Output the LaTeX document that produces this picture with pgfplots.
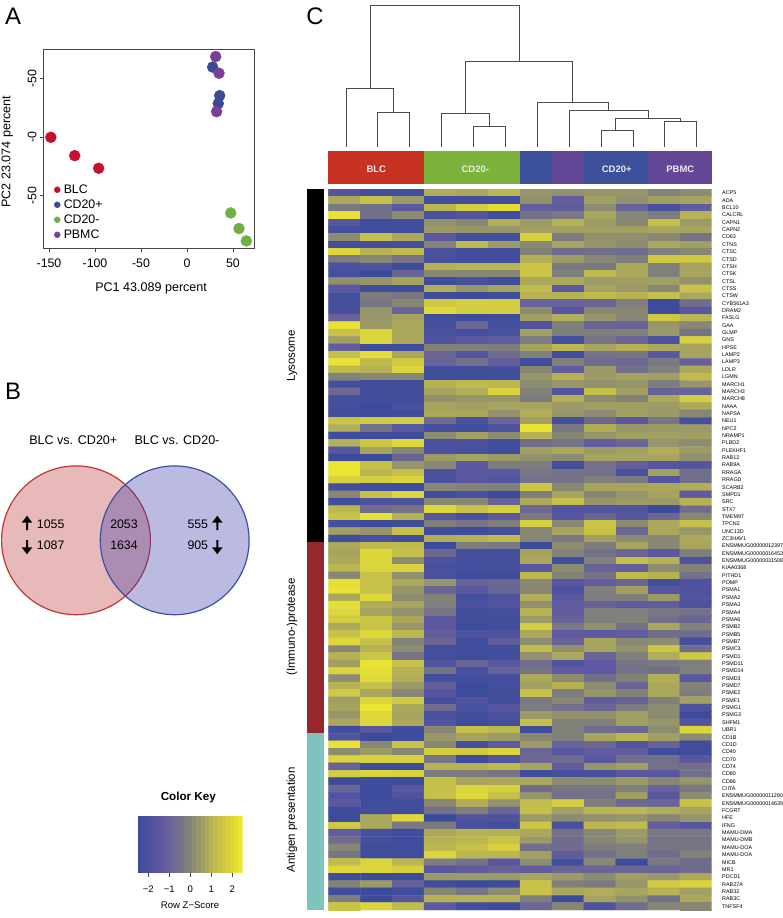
\documentclass[border=0pt]{standalone}
\usepackage{fontspec}
\setmainfont{Liberation Sans}
\usepackage{pgfplots}
\pgfplotsset{compat=1.18}
\newcommand\fs[1]{\fontsize{#1}{#1}\selectfont}
\definecolor{cBLC}{RGB}{200,16,46}
\definecolor{cPos}{RGB}{58,74,150}
\definecolor{cNeg}{RGB}{111,176,68}
\definecolor{cPBMC}{RGB}{123,63,152}
\definecolor{hRed}{RGB}{200,50,35}
\definecolor{hGreen}{RGB}{125,178,60}
\definecolor{hBlue}{RGB}{60,80,155}
\definecolor{hPurple}{RGB}{100,70,150}
\definecolor{vRed}{RGB}{189,55,55}
\definecolor{vBlue}{RGB}{60,60,170}
\definecolor{axgray}{RGB}{70,70,70}
\definecolor{dendro}{RGB}{75,75,75}
\pgfplotsset{
  colormap={bgy}{rgb255=(58,74,156) rgb255=(96,90,160) rgb255=(130,130,120) rgb255=(195,190,75) rgb255=(240,232,48)},
  every axis/.append style={scale only axis,anchor=south west},
}
\tikzset{dend/.style={draw=dendro,line width=.9bp,no marks,line join=miter}}
\begin{document}
\begin{tikzpicture}
\useasboundingbox (0,0) rectangle (783bp,918bp);
% ===== canvas axis in pixel units: panels letters, Venn, header, side bar
\begin{axis}[at={(0,0)},width=783bp,height=918bp,xmin=0,xmax=783,ymin=0,ymax=918,y dir=reverse,hide axis,clip=false]
\node[font=\fs{24}] at (axis cs:13,16) {A};
\node[font=\fs{24}] at (axis cs:13,391) {B};
\node[font=\fs{24}] at (axis cs:315,16) {C};
% Venn
\fill[vRed,fill opacity=.35] (axis cs:76,540.3) circle [radius=74.4bp];
\draw[vRed,line width=1.2bp] (axis cs:76,540.3) circle [radius=74.4bp];
\fill[vBlue,fill opacity=.35] (axis cs:174.7,540.3) circle [radius=74.4bp];
\draw[color={rgb,255:red,60;green,80;blue,165},line width=1.2bp] (axis cs:174.7,540.3) circle [radius=74.4bp];
\node[font=\fs{12.6}] at (axis cs:73.3,440) {BLC vs. CD20+};
\node[font=\fs{12.6}] at (axis cs:177,440) {BLC vs. CD20-};
\node[font=\fs{12.4},anchor=west,inner sep=0] at (axis cs:36.7,524.7) {1055};
\node[font=\fs{12.4},anchor=west,inner sep=0] at (axis cs:36.7,545.7) {1087};
\node[font=\fs{12.4}] at (axis cs:124,524.7) {2053};
\node[font=\fs{12.4}] at (axis cs:124,545.7) {1634};
\node[font=\fs{12.4},anchor=west,inner sep=0] at (axis cs:187.3,524.7) {555};
\node[font=\fs{12.4},anchor=west,inner sep=0] at (axis cs:187.3,545.7) {905};
\addplot[fill=black,draw=none] coordinates {(27,515.7)(32.3,522.7)(28,522.7)(28,530)(26,530)(26,522.7)(21.7,522.7)} --cycle;
\addplot[fill=black,draw=none] coordinates {(27,554.3)(32.3,547.3)(28,547.3)(28,540)(26,540)(26,547.3)(21.7,547.3)} --cycle;
\addplot[fill=black,draw=none] coordinates {(217.3,515.7)(222.6,522.7)(218.3,522.7)(218.3,530)(216.3,530)(216.3,522.7)(212,522.7)} --cycle;
\addplot[fill=black,draw=none] coordinates {(217.3,554.3)(222.6,547.3)(218.3,547.3)(218.3,540)(216.3,540)(216.3,547.3)(212,547.3)} --cycle;
% column header
\addplot[fill=hRed,draw=none] coordinates {(328.3,150.7)(424.3,150.7)(424.3,184)(328.3,184)} --cycle;
\addplot[fill=hGreen,draw=none] coordinates {(424.3,150.7)(520,150.7)(520,184)(424.3,184)} --cycle;
\addplot[fill=hBlue,draw=none] coordinates {(520,150.7)(552.3,150.7)(552.3,184)(520,184)} --cycle;
\addplot[fill=hPurple,draw=none] coordinates {(552.3,150.7)(584,150.7)(584,184)(552.3,184)} --cycle;
\addplot[fill=hBlue,draw=none] coordinates {(584,150.7)(648,150.7)(648,184)(584,184)} --cycle;
\addplot[fill=hPurple,draw=none] coordinates {(648,150.7)(711.7,150.7)(711.7,184)(648,184)} --cycle;
\node[font=\fs{9.5}\bfseries,text=white!92!black] at (axis cs:376.3,169.3) {BLC};
\node[font=\fs{9.5}\bfseries,text=white!92!black] at (axis cs:475.3,169.3) {CD20-};
\node[font=\fs{9.5}\bfseries,text=white!92!black] at (axis cs:616.7,169.3) {CD20+};
\node[font=\fs{9.5}\bfseries,text=white!92!black] at (axis cs:680.3,169.3) {PBMC};
% row-group side bar
\addplot[fill=black,draw=none] coordinates {(306.7,189.3)(323.7,189.3)(323.7,542.2)(306.7,542.2)} --cycle;
\addplot[fill={rgb,255:red,150;green,40;blue,45},draw=none] coordinates {(306.7,542.2)(323.7,542.2)(323.7,733.4)(306.7,733.4)} --cycle;
\addplot[fill={rgb,255:red,125;green,195;blue,190},draw=none] coordinates {(306.7,733.4)(323.7,733.4)(323.7,910)(306.7,910)} --cycle;
\node[font=\fs{11.5},rotate=90] at (axis cs:292,356) {Lysosome};
\node[font=\fs{11.5},rotate=90] at (axis cs:292,627) {(Immuno-)protease};
\node[font=\fs{11.5},rotate=90] at (axis cs:292,820) {Antigen presentation};
% colour key captions
\node[font=\fs{11.7}\bfseries] at (axis cs:188.3,797) {Color Key};
\node[font=\fs{9.6}] at (axis cs:190,905.5) {Row Z−Score};
\end{axis}
% ===== A: PCA
\begin{axis}[at={(43.3bp,669.7bp)},width=211.4bp,height=199bp,
  xmin=-156.2,xmax=73.6,ymin=-75.2,ymax=94.9,y dir=reverse,
  axis line style={axgray,line width=.9bp},
  tick style={axgray,line width=.7bp},tick align=outside,major tick length=3.3bp,
  xtick={-150,-100,-50,0,50},xticklabels={-150,-100,-50,0,50},
  ytick={-50,0,50},yticklabels={-50,-0,-50},
  xtick pos=lower,ytick pos=left,
  tick label style={font=\fs{12.4}},
  xticklabel style={yshift=-3.5bp},
  yticklabel style={rotate=90,anchor=south,xshift=0bp,yshift=0bp},
  xlabel={PC1 43.089 percent},ylabel={PC2 23.074 percent},
  legend cell align=left,
  legend style={at={(axis cs:-144.5,88.7)},anchor=south west,draw=none,fill=none,font=\fs{12.4},row sep=2.9bp,inner sep=0pt,nodes={inner sep=1pt}},
  legend image post style={mark size=3bp},
  every axis x label/.style={at={(axis description cs:0.51,-0.2)},anchor=center,font=\fs{12.6}},
  every axis y label/.style={at={(axis description cs:-0.17,0.485)},rotate=90,anchor=center,font=\fs{12.6}},
]
\addplot[only marks,mark=*,mark size=5.5bp,color=cBLC,mark options={draw=none}] coordinates {(-148,0)(-122,15.7)(-96,26.5)};
\addlegendentry{\hspace{2.5bp}BLC}
\addplot[only marks,mark=*,mark size=5.5bp,color=cPos,mark options={draw=none}] coordinates {(27.9,-60)(35.5,-35.6)(34,-28.8)};
\addlegendentry{\hspace{2.5bp}CD20+}
\addplot[only marks,mark=*,mark size=5.5bp,color=cNeg,mark options={draw=none}] coordinates {(47.5,64.7)(56.5,78)(64.5,88.6)};
\addlegendentry{\hspace{2.5bp}CD20-}
\addplot[only marks,mark=*,mark size=5.5bp,color=cPBMC,mark options={draw=none}] coordinates {(31.2,-69)(34.8,-54.7)(32.2,-21.9)};
\addlegendentry{\hspace{2.5bp}PBMC}
\end{axis}
% ===== colour key
\begin{axis}[at={(137.7bp,45.7bp)},width=105bp,height=56.3bp,
  xmin=-2.5,xmax=2.5,ymin=-.5,ymax=1.5,
  axis line style={draw=none},ytick=\empty,xtick={-2,-1,0,1,2},xticklabels={−2,−1,0,1,2},
  xtick pos=lower,tick align=outside,major tick length=5bp,tick style={axgray,line width=.6bp},
  xticklabel style={font=\fs{9.6},yshift=-5bp},
  point meta min=-2.5,point meta max=2.5,colormap name=bgy]
\addplot[matrix plot*,mesh/cols=25,point meta=x] coordinates {
(-2.4,0)(-2.2,0)(-2,0)(-1.8,0)(-1.6,0)(-1.4,0)(-1.2,0)(-1,0)(-.8,0)(-.6,0)(-.4,0)(-.2,0)(0,0)(.2,0)(.4,0)(.6,0)(.8,0)(1,0)(1.2,0)(1.4,0)(1.6,0)(1.8,0)(2,0)(2.2,0)(2.4,0)
(-2.4,1)(-2.2,1)(-2,1)(-1.8,1)(-1.6,1)(-1.4,1)(-1.2,1)(-1,1)(-.8,1)(-.6,1)(-.4,1)(-.2,1)(0,1)(.2,1)(.4,1)(.6,1)(.8,1)(1,1)(1.2,1)(1.4,1)(1.6,1)(1.8,1)(2,1)(2.2,1)(2.4,1)};
\end{axis}
% ===== dendrogram (units: 1/3 px)
\begin{axis}[at={(300bp,718bp)},width=483bp,height=200bp,xmin=0,xmax=1449,ymin=0,ymax=600,y dir=reverse,hide axis]
\addplot[dend] coordinates {(210,263)(210,15)(658,15)(658,184)};
\addplot[dend] coordinates {(139,440)(139,264)(281,264)(281,338)};
\addplot[dend] coordinates {(233,440)(233,338)(328,338)(328,440)};
\addplot[dend] coordinates {(497,340)(497,184)(817,184)(817,307)};
\addplot[dend] coordinates {(425,440)(425,340)(567,340)(567,380)};
\addplot[dend] coordinates {(521,440)(521,380)(617,380)(617,440)};
\addplot[dend] coordinates {(713,440)(713,308)(925,308)(925,331)};
\addplot[dend] coordinates {(808,440)(808,331)(1045,331)(1045,355)};
\addplot[dend] coordinates {(947,390)(947,355)(1141,355)(1141,364)};
\addplot[dend] coordinates {(904,440)(904,391)(999,391)(999,440)};
\addplot[dend] coordinates {(1093,440)(1093,364)(1188,364)(1188,440)};
\end{axis}
% ===== heat map
\begin{axis}[at={(328.3bp,8bp)},width=383.4bp,height=720.7bp,
  xmin=-.5,xmax=11.5,ymin=-.5,ymax=97.5,y dir=reverse,
  axis line style={draw=none},xtick=\empty,tick style={draw=none},major tick length=0pt,
  ytick={0,...,97},yticklabel pos=right,
  yticklabel style={font=\fs{5.4},anchor=west,inner sep=0pt,xshift=10.3bp},
  yticklabels={ACP5,ADA,BCL10,CALCRL,CAPN1,CAPN2,CD63,CTNS,CTSC,CTSD,CTSH,CTSK,CTSL,CTSS,CTSW,CYB561A3,DRAM2,FASLG,GAA,GLMP,GNS,HPSE,LAMP2,LAMP3,
  LDLR,LGMN,MARCH1,MARCH3,MARCH8,NAAA,NAPSA,NEU1,NPC2,NRAMP1,PLBD2,PLEKHF1,RAB12,RAB9A,RRAGA,RRAGD,SCARB2,SMPD1,SRC,STX7,TMEM97,TPCN2,UNC13D,ZC3HAV1,
  ENSMMUG00000012397,ENSMMUG00000016453,ENSMMUG00000031508,KIAA0368,PITHD1,POMP,PSMA1,PSMA2,PSMA3,PSMA4,PSMA6,PSMB2,PSMB5,PSMB7,PSMC3,PSMD1,PSMD11,PSMD14,PSMD3,PSMD7,PSME2,PSMF1,PSMG1,PSMG3,SHFM1,UBR1,
  CD1B,CD1D,CD40,CD70,CD74,CD80,CD86,CIITA,ENSMMUG00000011290,ENSMMUG00000014639,FCGRT,HFE,IFNG,MAMU-DMA,MAMU-DMB,MAMU-DOA,MAMU-DOA,MICB,MR1,PDCD1,RAB27A,RAB32,RAB3C,TNFSF4},
  point meta min=-2.5,point meta max=2.5,colormap name=bgy]
\addplot[matrix plot*,mesh/cols=12,point meta=explicit] table[row sep=\\,x expr={mod(\coordindex,12)},y expr={(\coordindex-mod(\coordindex,12))/12},meta=z] {
z\\
-1.7\\ -2.2\\ -2.2\\ .9\\ .8\\ 1.1\\ .4\\ .3\\ .4\\ .4\\ 0\\ .2\\
.8\\ 1.4\\ .5\\ -2.2\\ -2.2\\ -2.2\\ .3\\ -1.1\\ .6\\ .3\\ .6\\ .7\\
-.3\\ -.6\\ -1.4\\ 1.1\\ 1.7\\ 2.2\\ -1.1\\ -1.2\\ .2\\ -1\\ -2\\ -1.2\\
2.3\\ -.6\\ .2\\ -2\\ -1.7\\ -2.3\\ -.5\\ -.3\\ .7\\ .1\\ -.2\\ 1\\
-1.6\\ -2.3\\ -2.3\\ .3\\ .1\\ .9\\ .5\\ 1\\ .5\\ .1\\ 1.3\\ .5\\
-2.2\\ -2.3\\ -2.3\\ .5\\ .4\\ .4\\ .6\\ .6\\ .6\\ .6\\ .8\\ .7\\
.2\\ 1.3\\ .8\\ -1.4\\ -2.2\\ -2.2\\ 1.8\\ -.2\\ .3\\ .3\\ .1\\ -.4\\
-2.2\\ -2.2\\ -2.2\\ 0\\ 1.2\\ .5\\ .1\\ .7\\ .4\\ .2\\ .8\\ .6\\
2\\ 1\\ 1.2\\ -2\\ -2.2\\ -2.2\\ 0\\ -.7\\ -.6\\ -.7\\ -.1\\ .1\\
-.2\\ .1\\ -.4\\ -2\\ -2.2\\ -2.2\\ .9\\ .5\\ .1\\ -.1\\ 1.6\\ 1.6\\
-2\\ -1.9\\ -2.3\\ 1\\ 1.1\\ 1.1\\ 1.5\\ -.3\\ -.3\\ .8\\ -.1\\ .7\\
-2.1\\ -2.4\\ -.9\\ .1\\ .1\\ .1\\ 1.5\\ -.1\\ 1.2\\ .8\\ -.1\\ .7\\
.3\\ .4\\ .7\\ -2.3\\ -2\\ -2.3\\ .8\\ .8\\ .5\\ .6\\ .6\\ .3\\
-1.4\\ -2.3\\ -2.3\\ .9\\ .4\\ .7\\ 1.2\\ -1.4\\ .7\\ .5\\ .1\\ 1.4\\
-2.2\\ -.2\\ -.3\\ -2.3\\ -2.4\\ -2.3\\ 1\\ 1\\ 1.2\\ 1\\ 1.3\\ .8\\
-2.2\\ -.4\\ .1\\ 1.6\\ 1.7\\ 1.7\\ -1\\ -1\\ -.9\\ -.1\\ -2.4\\ -.7\\
-2.1\\ .4\\ -1\\ 2\\ 1.7\\ 1.7\\ .2\\ -1.6\\ .1\\ .1\\ -2.4\\ -1.5\\
-1\\ .4\\ .7\\ -2.3\\ -2.4\\ -2.3\\ .6\\ .9\\ .4\\ .1\\ 1.6\\ 1.1\\
2.3\\ .5\\ .8\\ -2\\ -.9\\ -2.1\\ -1.8\\ -.1\\ -.9\\ -1\\ .4\\ .1\\
1.4\\ 1.9\\ .8\\ -2\\ -2.2\\ -2\\ .6\\ -.2\\ -.1\\ 0\\ .5\\ -.5\\
.6\\ 1.9\\ .8\\ -1.9\\ -1.4\\ -1.2\\ -.2\\ -2.1\\ -.4\\ -.9\\ -1.9\\ 1.8\\
-1.2\\ -2.3\\ -2.3\\ 0\\ -.1\\ -.2\\ .7\\ 1.1\\ .7\\ 1\\ .8\\ .7\\
1.3\\ 2.2\\ .8\\ -.9\\ -1.7\\ -.7\\ -.1\\ -2.3\\ -.5\\ -.4\\ -1.5\\ .7\\
2.3\\ 1.2\\ 1.6\\ -1\\ -.6\\ -1.1\\ -2.3\\ -.1\\ -.7\\ -.8\\ -.3\\ -1.1\\
1.2\\ 1\\ 1.9\\ -2.2\\ -2.2\\ -2.2\\ .1\\ -1.2\\ .5\\ -.6\\ -.1\\ .8\\
0\\ .1\\ .1\\ -2.3\\ -2.3\\ -2.3\\ .4\\ 1\\ .5\\ .7\\ .6\\ 1.2\\
-2.2\\ -2.2\\ -2.2\\ 1\\ 1.2\\ 1.1\\ .2\\ .4\\ .3\\ .4\\ -.2\\ .4\\
-.8\\ -2.2\\ -2.2\\ .7\\ .9\\ 1.9\\ 0\\ -1.7\\ 1.3\\ .6\\ -1\\ -1\\
-2.2\\ -2.2\\ -2.2\\ .3\\ .4\\ .4\\ -.2\\ 1\\ .2\\ 0\\ .8\\ 1.7\\
-2.2\\ -2.4\\ -2\\ .7\\ .6\\ .7\\ .7\\ .5\\ .6\\ .6\\ .5\\ .8\\
-2.2\\ -2.4\\ -2.3\\ .8\\ .8\\ .3\\ .9\\ .4\\ .2\\ .6\\ .5\\ .1\\
1.5\\ 1.6\\ 1.7\\ -.7\\ -2\\ -.9\\ .6\\ -2.1\\ -.8\\ -1.4\\ -.4\\ -2.1\\
.9\\ -.5\\ -1.5\\ -2.1\\ -2.3\\ -1.9\\ 2.3\\ -.3\\ .9\\ .4\\ .5\\ .5\\
-2.3\\ -2.3\\ -2.3\\ .2\\ .6\\ .2\\ 1\\ .1\\ .4\\ .6\\ .6\\ .6\\
1\\ 1.5\\ 2\\ -2\\ -1.9\\ -2.3\\ -.6\\ -.4\\ -1.2\\ -.9\\ .4\\ .2\\
-1.6\\ .7\\ .1\\ -2\\ -2.2\\ -2.3\\ .6\\ .8\\ .5\\ .6\\ .9\\ .5\\
-2.4\\ -2.4\\ -.9\\ .5\\ .7\\ .5\\ .3\\ .2\\ .7\\ .7\\ .7\\ .3\\
2.4\\ 1.3\\ .4\\ .1\\ -1.4\\ -.2\\ -.2\\ -2.1\\ -.5\\ -1.1\\ -1.6\\ -1.7\\
2.4\\ 1.1\\ 1.3\\ -2\\ -1.5\\ -1.5\\ -.4\\ -.5\\ -.6\\ -2\\ .6\\ -.6\\
1.8\\ 1.7\\ 1.9\\ -2\\ -1.5\\ -1.7\\ -.5\\ -.5\\ -.1\\ -.3\\ -1.7\\ -.6\\
-2.2\\ -2.3\\ -2.3\\ .1\\ 0\\ -.1\\ 1.5\\ .1\\ .7\\ .7\\ .8\\ .9\\
.1\\ 1.3\\ 1.9\\ -2.3\\ -2\\ -2.4\\ -.1\\ .7\\ .1\\ .4\\ .7\\ -1.3\\
-2.3\\ -1.9\\ -1.8\\ .1\\ .1\\ -1\\ .8\\ 1.3\\ .4\\ .5\\ .5\\ 1\\
1.1\\ -.7\\ -.4\\ 2\\ 1.3\\ 1.8\\ -.8\\ -1.7\\ -1.7\\ -1.7\\ -2.4\\ -.7\\
1.4\\ 2.3\\ 1\\ -1.5\\ -2\\ -1.3\\ -.3\\ -1.6\\ -.9\\ -1.6\\ -.8\\ .1\\
-2.1\\ -2.4\\ -2.3\\ -.1\\ -.4\\ -.1\\ 1.8\\ .1\\ 1.5\\ .2\\ .8\\ 1.3\\
.6\\ .4\\ 1.4\\ -2.3\\ -2.3\\ -2.2\\ .1\\ .7\\ 1.4\\ -.9\\ .8\\ .4\\
-2.3\\ -2\\ -2.3\\ .9\\ 1\\ 1.2\\ .1\\ -.3\\ .6\\ .2\\ .1\\ .8\\
.8\\ 1.2\\ 1.2\\ -2.4\\ -.2\\ -.3\\ -2.4\\ .2\\ -.2\\ .7\\ .1\\ .7\\
.7\\ 2\\ 1.3\\ -.8\\ -2.2\\ -2.2\\ .7\\ 0\\ -.5\\ -.9\\ -1.4\\ -.1\\
.8\\ 1.9\\ .2\\ -1.9\\ -2.1\\ -2.1\\ .8\\ -2.2\\ 0\\ 1.3\\ 1\\ -1.8\\
1.1\\ 1.9\\ 1.8\\ -2\\ -2.2\\ -2.1\\ -1.5\\ .2\\ -1\\ -1.1\\ .2\\ 0\\
.1\\ 1.3\\ .3\\ -2\\ -2.4\\ -2.3\\ 1.1\\ 0\\ -.4\\ 1.2\\ 1\\ -.5\\
2.2\\ 1.4\\ .8\\ .4\\ -1\\ -.8\\ .1\\ -1.6\\ -1.2\\ -.9\\ -2.2\\ -1.9\\
2.3\\ 1.4\\ .4\\ -.9\\ -1.4\\ -.9\\ .1\\ -1.9\\ -.1\\ .6\\ -1.6\\ -1.8\\
.8\\ 2\\ .2\\ 0\\ -2.2\\ -1.9\\ .9\\ -1.4\\ -.2\\ -.1\\ .5\\ -1.7\\
2.2\\ .9\\ .7\\ -.1\\ -1.9\\ -1.7\\ .3\\ -1.2\\ -1\\ -1.2\\ -1.2\\ -1.9\\
2\\ .7\\ .3\\ -.4\\ -2.2\\ -2.1\\ 1\\ -1.2\\ -.1\\ -.1\\ -.3\\ -.5\\
1.7\\ 1.5\\ .8\\ -1.4\\ -2.2\\ -2.2\\ .5\\ -1\\ -.1\\ 0\\ -.6\\ -.9\\
.8\\ 1.4\\ .4\\ -1.4\\ -2.4\\ -2.2\\ 1.7\\ -.3\\ .3\\ -.5\\ .8\\ 0\\
1.4\\ 2\\ 1.1\\ -1.1\\ -1.9\\ -1.8\\ .8\\ -1.3\\ -1.3\\ -1.2\\ -.7\\ -.7\\
2\\ 1.3\\ 0\\ -.9\\ -2.3\\ -1.2\\ .2\\ -1\\ .7\\ .1\\ .2\\ -2.1\\
.1\\ 1\\ .2\\ -2.2\\ -2.3\\ -2.2\\ 1.2\\ .3\\ .7\\ .3\\ 1.5\\ -.7\\
1\\ 1.5\\ -.4\\ -2.1\\ -2.3\\ -2.2\\ .3\\ .8\\ -.9\\ -.1\\ .9\\ 1.6\\
.6\\ 2.3\\ 1.3\\ -1.7\\ -.9\\ -1.5\\ -.7\\ -1.7\\ -1.3\\ -.4\\ -.3\\ -.1\\
1.9\\ 2.2\\ 1\\ -.4\\ -2\\ -1\\ -.4\\ -1.3\\ -1.3\\ -.5\\ -.6\\ -.1\\
.2\\ 2.1\\ .9\\ -2.2\\ -2.2\\ -2.1\\ .8\\ .2\\ -.6\\ 0\\ .9\\ -1.5\\
1\\ 1.3\\ .5\\ -1.1\\ -2.4\\ -2.2\\ .6\\ 1\\ .2\\ -.9\\ .8\\ 0\\
1.6\\ .8\\ .1\\ -1.6\\ -2.4\\ -2.2\\ 1.3\\ -.2\\ .4\\ 0\\ .8\\ -.2\\
.6\\ 2\\ 1.6\\ -2.1\\ -1.7\\ -2.3\\ -.3\\ .1\\ -1.2\\ -1\\ -.1\\ .6\\
.7\\ 2.4\\ .8\\ -.7\\ -2\\ -1.6\\ -.2\\ -.6\\ -.9\\ -.2\\ .2\\ -1.8\\
.4\\ 2\\ .7\\ -2\\ -2.2\\ -1.9\\ .5\\ .3\\ .3\\ .6\\ .2\\ -2.4\\
.8\\ 2\\ .8\\ -1.7\\ -2.4\\ -2.2\\ 1.3\\ 0\\ -.1\\ .6\\ .4\\ -1.7\\
-2.3\\ -1.4\\ -2.3\\ .1\\ 1.3\\ 1.1\\ -2.3\\ 0\\ -.7\\ -.8\\ .2\\ 1.9\\
-1.8\\ -2.4\\ -2.4\\ .4\\ .7\\ .5\\ .1\\ -.1\\ .7\\ 1.1\\ .6\\ .2\\
2.3\\ .1\\ 1.4\\ .1\\ -2.1\\ -1.3\\ .5\\ -1\\ -.8\\ -1.7\\ -1\\ -2.3\\
.2\\ .5\\ .1\\ 1.7\\ 1.6\\ 1.9\\ -.9\\ -1.5\\ -1.2\\ -1.2\\ -2.3\\ -2.3\\
1.9\\ 1.8\\ 1.8\\ -.4\\ -2.3\\ -1.7\\ -.8\\ -.7\\ -1.5\\ -.6\\ -.6\\ -1.5\\
-1\\ -2.4\\ -2.4\\ 1\\ 1\\ 1.2\\ .7\\ -1.2\\ .4\\ .6\\ -.5\\ -.6\\
1.7\\ 1.9\\ 1.8\\ -.2\\ -.2\\ -.4\\ -2.3\\ -2.1\\ -2\\ -1.4\\ -1.5\\ -.6\\
-2.4\\ -2.3\\ -2.4\\ 1.3\\ .7\\ .8\\ .8\\ .2\\ .2\\ .5\\ .1\\ .4\\
-.9\\ -2.4\\ -1.4\\ 1.3\\ 1.9\\ 1.8\\ -.7\\ -.4\\ -.4\\ -.1\\ -1\\ -.3\\
-1.7\\ -2.4\\ -1.8\\ 1.3\\ 2\\ 1.3\\ .4\\ -.5\\ -.5\\ .6\\ -1.6\\ .2\\
-1.4\\ -2.3\\ -2.3\\ .1\\ .9\\ .3\\ 1.2\\ 1.7\\ -.1\\ -.8\\ -.9\\ 1.4\\
-2.4\\ -2.3\\ -2.3\\ -.6\\ -.1\\ -.9\\ 1.3\\ .6\\ 1.1\\ 1.1\\ .9\\ .7\\
-2.4\\ .8\\ 2\\ -2.4\\ -1.7\\ -1.8\\ .5\\ .2\\ .3\\ .4\\ .1\\ .4\\
1.6\\ .8\\ -.3\\ -.3\\ -2\\ -2.2\\ 1.5\\ -2\\ 1.1\\ 1.2\\ -1.1\\ -1.6\\
-1.2\\ -2.1\\ -2.3\\ .8\\ 1\\ 1\\ .8\\ -.5\\ .1\\ .5\\ -.3\\ -.3\\
-.7\\ -2.1\\ -2.3\\ 1\\ 1.1\\ 1.4\\ .5\\ -.7\\ .1\\ .4\\ -.4\\ -.4\\
.1\\ -2.3\\ -2.3\\ 1.1\\ 1.3\\ 1.8\\ -.6\\ -.7\\ -.2\\ -.1\\ -.4\\ -.4\\
-.4\\ -2.3\\ -2.3\\ 2\\ 1.1\\ 1.1\\ .6\\ -1.2\\ -.5\\ -.1\\ -.7\\ 0\\
1.2\\ 1.9\\ 1.1\\ -.2\\ -.5\\ -1.5\\ .2\\ -2.2\\ .1\\ -2.4\\ -.3\\ -.7\\
2\\ 1.9\\ 1.8\\ -1.5\\ -1.2\\ -1\\ -1.2\\ -.9\\ -.9\\ -.9\\ -.9\\ -.7\\
-2.3\\ -2.4\\ -2.4\\ .5\\ .5\\ .5\\ .7\\ .5\\ .2\\ .6\\ .4\\ .8\\
0\\ .5\\ -1\\ -2.3\\ -2.5\\ -2.4\\ 1.4\\ -.1\\ -.3\\ .4\\ 1.6\\ 1.9\\
-2.3\\ -2.5\\ -2.3\\ .1\\ -.4\\ .2\\ 1.4\\ .8\\ .9\\ .7\\ 1\\ .6\\
-.2\\ -2.4\\ -1.6\\ 1\\ 1\\ 1\\ -.1\\ -2.4\\ .7\\ .3\\ -.6\\ .8\\
1.4\\ 1.9\\ 1.2\\ -1.3\\ -2.2\\ -2.4\\ -.9\\ .1\\ -1.8\\ -.7\\ .1\\ .1\\
};
\end{axis}
\end{tikzpicture}
\end{document}
